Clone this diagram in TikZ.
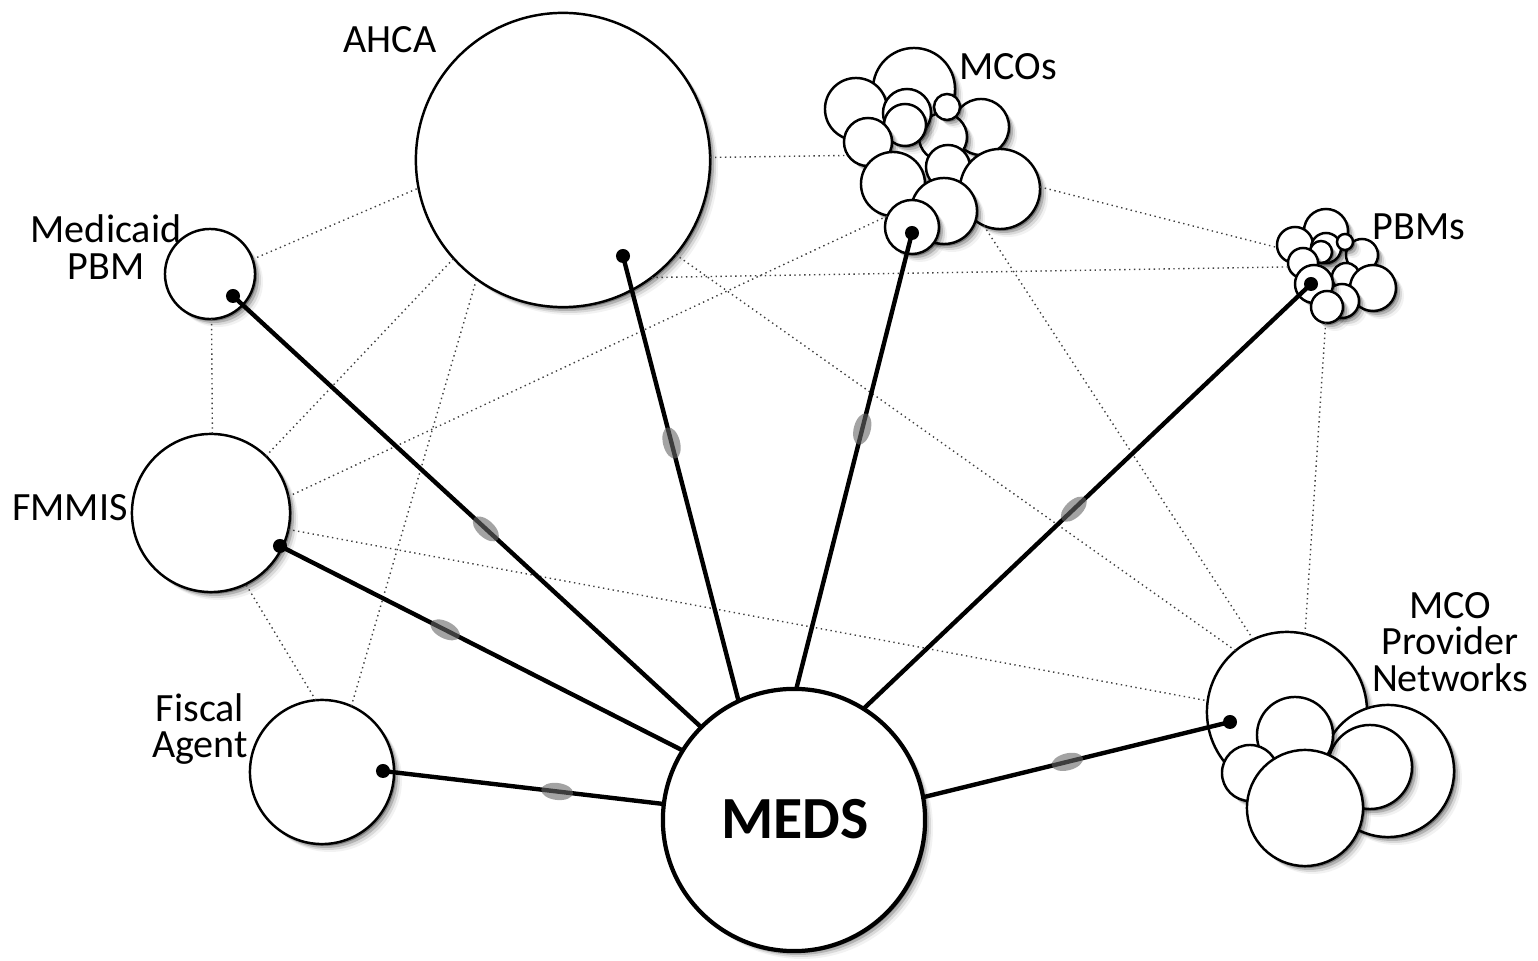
\documentclass[tikz,border=0pt]{standalone}
\usepackage{fontspec}
\setmainfont{Carlito}
\usetikzlibrary{shapes.geometric}
\tikzset{
  bubble/.style={circle,draw=black,fill=white,line width=0.7pt,inner sep=0pt,outer sep=0pt},
  conn/.style={draw=black!75,line width=0.4pt,densely dotted},
  link/.style={draw=black,line width=1.25pt},
  dotm/.style={circle,fill=black,inner sep=0pt,outer sep=0pt,minimum size=0.14cm},
  blob/.style={ellipse,fill=black!60,opacity=0.6,inner sep=0pt,minimum width=0.32cm,minimum height=0.17cm,sloped},
  lbl/.style={font=\fontsize{11.4pt}{10.4pt}\selectfont,align=center,inner sep=0pt},
}
\newcommand\bub[5][]{%
  \foreach \s/\o in {2/0.3,4/0.18,6/0.1,8/0.05}{\fill[black,opacity=\o] (#3+\s,#4+\s) circle[radius=#5*0.01cm];}
  \node[bubble,minimum size=#5*0.02cm,#1] (#2) at (#3,#4) {};
}
\begin{document}
\begin{tikzpicture}[x=0.01cm,y=-0.01cm]
\useasboundingbox (0,0) rectangle (1538,961);
% main circles
\bub{ahca}{563}{160}{147}
\bub{mpbm}{210}{274}{45}
\bub{fmmis}{211}{513}{79}
\bub{fiscal}{322}{772}{72}
% MCOs cluster
\bub{m1}{914}{89}{41}
\bub{m3}{981}{127}{28}
\bub{m2}{856}{109}{31}
\bub{m4}{943}{137}{24}
\bub{m5}{907}{113}{24}
\bub{m6}{905}{125}{21}
\bub{m7}{947}{107}{13}
\bub{m8}{868}{142}{24}
\bub{m10}{948}{167}{22}
\bub{m9}{893}{184}{32}
\bub{m11}{1000}{189}{40}
\bub{m12}{944}{211}{33}
\bub{m13}{912}{227}{27}
% PBMs cluster
\bub{p1}{1326}{231}{22}
\bub{p4}{1362}{255}{16}
\bub{p2}{1295}{245}{18}
\bub{p3}{1326}{248}{15}
\bub{p3b}{1321}{252}{11}
\bub{p5}{1345}{242}{8}
\bub{p6}{1303}{263}{15}
\bub{p7}{1346}{277}{14}
\bub{p9}{1373}{288}{23}
\bub{p10}{1342}{301}{17}
\bub{p8}{1314}{284}{19}
\bub{p11}{1327}{307}{16}
% MCO provider networks cluster
\bub{n1}{1287}{712}{80}
\bub{n2}{1388}{771}{66}
\bub{n3}{1370}{767}{42}
\bub{n4}{1295}{735}{38}
\bub{n5}{1250}{773}{28}
\bub{n6}{1305}{808}{58}
% MEDS
\bub[line width=1.2pt]{meds}{794}{820}{131}
\node[font=\fontsize{17pt}{17pt}\selectfont\bfseries,inner sep=0pt] (medstext) at (795,819) {MEDS};
% dotted connectors
\draw[conn] (mpbm.19.6) -- (ahca.191.8);
\draw[conn] (mpbm.-88) -- (fmmis.89);
\draw[conn] (fmmis.46) -- (ahca.222.6);
\draw[conn] (fmmis.12.8) -- (m13.156);
\draw[conn] (fmmis.-12.5) -- (n1.172.2);
\draw[conn] (fiscal.95) -- (fmmis.-64);
\draw[conn] (fiscal.66.5) -- (ahca.234.4);
\draw[conn] (ahca.1) -- (m8.214);
\draw[conn] (ahca.-53.1) -- (p6.195);
\draw[conn] (ahca.-40.1) -- (n1.130);
\draw[conn] (m11.3) -- (p2.188);
\draw[conn] (m11.246.5) -- (n1.115.3);
\draw[conn] (p11.265) -- (n1.77.3);
% dots
\node[dotm] (ahcadot) at (623,256) {};
\node[dotm] (mcodot) at (912,233) {};
\node[dotm] (pbmdot) at (1311,284) {};
\node[dotm] (mpbmdot) at (233,296) {};
\node[dotm] (fmmisdot) at (280,546) {};
\node[dotm] (fiscaldot) at (383,771) {};
\node[dotm] (mcopndot) at (1230,722) {};
% thick links to MEDS
\draw[link] (ahcadot.center) -- node[blob,pos=.42]{} (meds.115);
\draw[link] (mcodot.center) -- node[blob,pos=.43]{} (meds.89);
\draw[link] (pbmdot.center) -- node[blob,pos=.53]{} (meds.58);
\draw[link] (mpbmdot.center) -- node[blob,pos=.54]{} (meds.135);
\draw[link] (fmmisdot.center) -- node[blob,pos=.41]{} (meds.148);
\draw[link] (fiscaldot.center) -- node[blob,pos=.62]{} (meds.173);
\draw[link] (mcopndot.center) -- node[blob,pos=.53]{} (meds.10);
% labels
\node[lbl] (lahca) at (390,40) {AHCA};
\node[lbl] (lmcos) at (1008,67) {MCOs};
\node[lbl] (lpbms) at (1419,227) {PBMs};
\node[lbl] (lmpbm) at (106,247) {Medicaid\\PBM};
\node[lbl] (lfmmis) at (70,508) {FMMIS};
\node[lbl] (lfiscal) at (200,729) {Fiscal\\Agent};
\node[lbl] (lmcopn) at (1450,642) {MCO\\Provider\\Networks};
\end{tikzpicture}
\end{document}
